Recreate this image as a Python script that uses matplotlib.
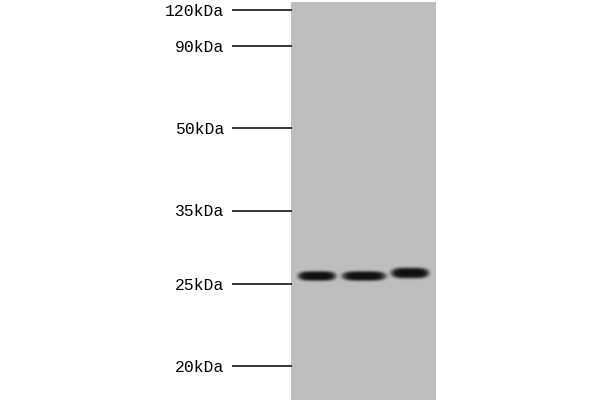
import numpy as np
import matplotlib
matplotlib.use("Agg")
import matplotlib.pyplot as plt

# marker ladder: label and band position (px from top of image)
marker_labels = ["120kDa", "90kDa", "50kDa", "35kDa", "25kDa", "20kDa"]
marker_pos = [10, 46, 128, 211, 284, 366]

# sample lanes: center x, half width, band center y, band half height
lane_x = [317, 364, 410]
lane_hw = [19, 22, 19]
band_y = [276, 276, 273]
band_hh = [5.0, 5.0, 5.5]

gel_left, gel_right = 291, 436
gel_grey = 0.745
band_dark = 0.06

fig = plt.figure(figsize=(6, 4), dpi=100)
ax = fig.add_axes([0, 0, 1, 1])
ax.set_xlim(0, 600)
ax.set_ylim(400, 0)
ax.axis("off")

# gel image
xs = np.arange(gel_left, gel_right) + 0.5
ys = np.arange(2, 400) + 0.5
X, Y = np.meshgrid(xs, ys)
img = np.full(X.shape, gel_grey)
for cx, hw, cy, hh in zip(lane_x, lane_hw, band_y, band_hh):
    d = (np.abs((X - cx) / hw) ** 4 + np.abs((Y - cy) / hh) ** 2)
    strength = np.exp(-d ** 2)
    img = img - (gel_grey - band_dark) * strength
ax.imshow(img, cmap="gray", vmin=0, vmax=1, extent=(gel_left, gel_right, 400, 2),
          interpolation="bilinear", aspect="auto")

# ladder ticks and labels
for lab, y in zip(marker_labels, marker_pos):
    ax.plot([232, 292], [y, y], color="black", lw=1.1, solid_capstyle="butt")
    ax.text(224, y + 1, lab, ha="right", va="center", fontsize=11.8,
            family="Liberation Mono", color="black")

fig.savefig("out.png", dpi=100)
